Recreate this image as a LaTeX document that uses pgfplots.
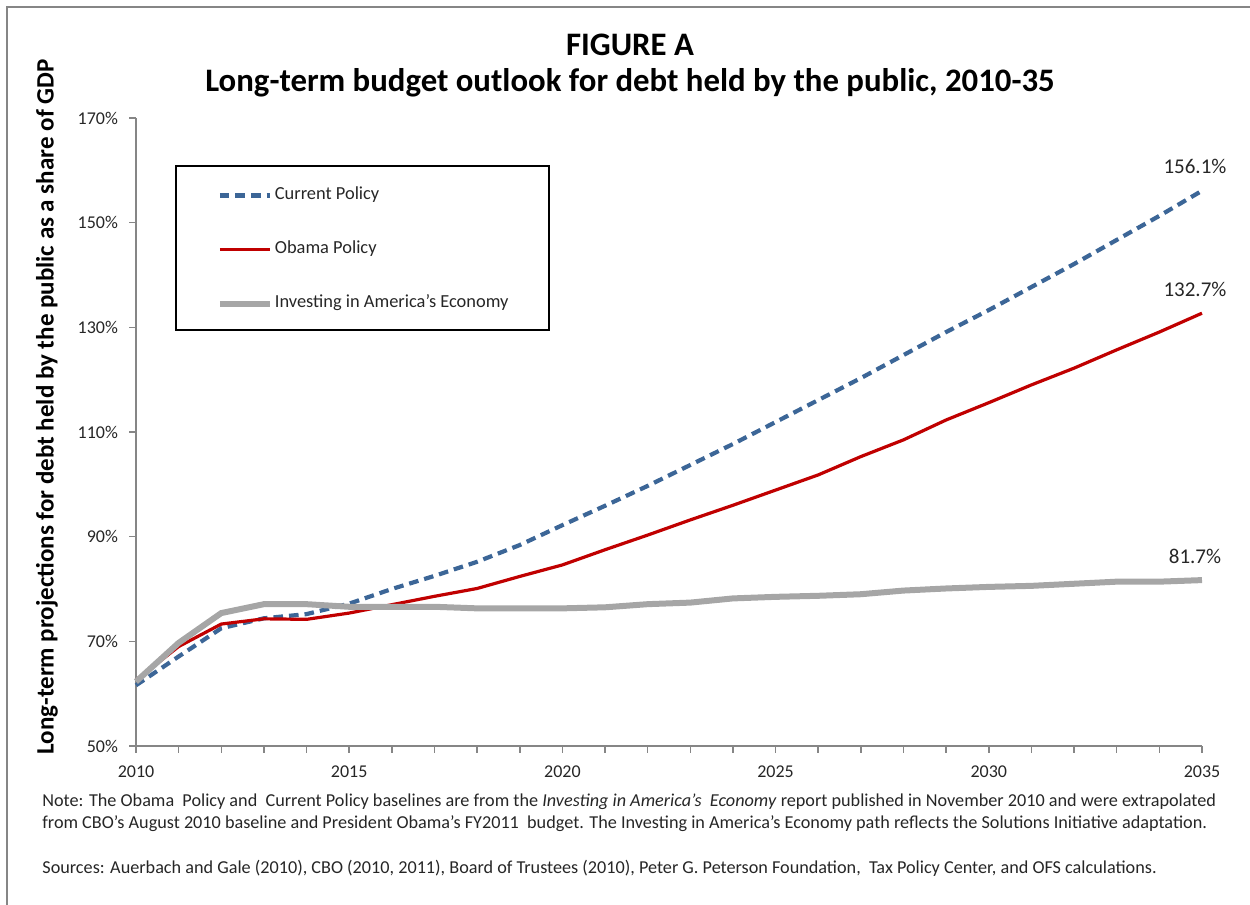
\documentclass[border=0pt]{standalone}
\usepackage{fontspec}
\setmainfont{Carlito}
\usepackage{pgfplots}
\usepackage{pgfplotstable}
\pgfplotsset{compat=1.18}
\definecolor{cpblue}{HTML}{3C6697}
\definecolor{obred}{HTML}{C00000}
\definecolor{iagray}{HTML}{A6A6A6}
\definecolor{axgray}{HTML}{868686}
\definecolor{txt}{HTML}{262626}

\pgfplotstableread{
year cp ob ia
2010 61.6 62.6 62.3
2011 67.1 69.0 69.7
2012 72.5 73.3 75.4
2013 74.4 74.3 77.1
2014 75.2 74.2 77.1
2015 77.2 75.4 76.6
2016 80.0 77.0 76.6
2017 82.5 78.6 76.6
2018 85.2 80.1 76.3
2019 88.4 82.4 76.3
2020 92.2 84.6 76.3
2021 95.9 87.5 76.5
2022 99.7 90.3 77.1
2023 103.7 93.2 77.4
2024 107.7 96.0 78.2
2025 111.9 98.9 78.5
2026 116.1 101.8 78.7
2027 120.3 105.3 79.0
2028 124.7 108.5 79.7
2029 129.1 112.3 80.1
2030 133.3 115.6 80.4
2031 137.7 119.0 80.6
2032 142.1 122.2 81.0
2033 146.7 125.7 81.4
2034 151.3 129.1 81.4
2035 156.1 132.7 81.7
}\data

\begin{document}
\begin{tikzpicture}[x=0.5pt,y=0.5pt]
\useasboundingbox (0,0) rectangle (1250,905);
\draw[axgray, line width=1pt] (7,0) -- (7,898) -- (1250,898);
\node[font=\fontsize{16.4}{19}\selectfont\bfseries] at (630,860) {FIGURE A};
\node[font=\fontsize{16.4}{19}\selectfont\bfseries] at (630,822) {Long-term budget outlook for debt held by the public, 2010-35};
\node[font=\fontsize{12.5}{14}\selectfont\bfseries, rotate=90] at (47,498) {Long-term projections for debt held by the public as a share of GDP};
\begin{axis}[
  at={(68pt,79.5pt)}, anchor=south west,
  scale only axis, width=533pt, height=314pt,
  xmin=2010, xmax=2035, ymin=50, ymax=170,
  axis x line*=bottom, axis y line*=left,
  axis line style={axgray, line width=0.75pt},
  tick style={axgray, line width=0.75pt},
  tick align=outside,
  major tick length=3.5pt, minor tick length=3.5pt,
  xtick={2010,2015,2020,2025,2030,2035},
  minor x tick num=4,
  ytick={50,70,90,110,130,150,170},
  yticklabel={\pgfmathprintnumber{\tick}\%},
  xticklabel style={/pgf/number format/1000 sep={}, yshift=-3pt},
  yticklabel style={xshift=-2pt},
  /pgf/number format/assume math mode=true,
  ticklabel style={font=\fontsize{9}{10}\selectfont, color=txt},
  clip=false,
  legend cell align=left,
  legend style={at={(rel axis cs:0.0755,0.7905)}, anchor=west, draw=none, fill=none,
    font=\fontsize{9.2}{11}\selectfont, text=txt, row sep=19pt, inner sep=0pt,
    nodes={inner xsep=1pt, inner ysep=0pt, text height=6pt, text depth=2pt}},
  legend image code/.code={\draw[#1] (0pt,0pt) -- (25pt,0pt);},
]
\draw[black, line width=0.6pt] (rel axis cs:0.0375,0.9236) rectangle (rel axis cs:0.3874,0.6624);
\addplot[cpblue, line width=2.1pt, dash pattern=on 4.8pt off 3pt] table[x=year,y=cp] {\data};
\addlegendentry{Current Policy}
\addplot[obred, line width=1.6pt] table[x=year,y=ob] {\data};
\addlegendentry{Obama Policy}
\addplot[iagray, line width=3pt] table[x=year,y=ia] {\data};
\addlegendentry{Investing in America's Economy}
\node[font=\fontsize{10.5}{12}\selectfont, text=txt] at ([xshift=-3.5pt,yshift=12pt]axis cs:2035,156.1) {156.1\%};
\node[font=\fontsize{10.5}{12}\selectfont, text=txt] at ([xshift=-3.5pt,yshift=12pt]axis cs:2035,132.7) {132.7\%};
\node[font=\fontsize{10.5}{12}\selectfont, text=txt] at ([xshift=-3.5pt,yshift=12pt]axis cs:2035,81.7) {81.7\%};
\end{axis}
\node[anchor=west, inner sep=0pt, font=\fontsize{9.1}{10}\selectfont, text=txt] at (42,103) {Note: The Obama\ \ Policy and\ \ Current Policy baselines are from the \textit{Investing in America's\ \ Economy} report published in November 2010 and were extrapolated};
\node[anchor=west, inner sep=0pt, font=\fontsize{9.1}{10}\selectfont, text=txt] at (42,81) {from CBO's August 2010 baseline and President Obama's FY2011\ \ budget. The Investing in America's Economy path reflects the Solutions Initiative adaptation.};
\node[anchor=west, inner sep=0pt, font=\fontsize{9.1}{10}\selectfont, text=txt] at (42,37) {Sources: Auerbach and Gale (2010), CBO (2010, 2011), Board of Trustees (2010), Peter G. Peterson Foundation,\ \ Tax Policy Center, and OFS calculations.};
\end{tikzpicture}
\end{document}
